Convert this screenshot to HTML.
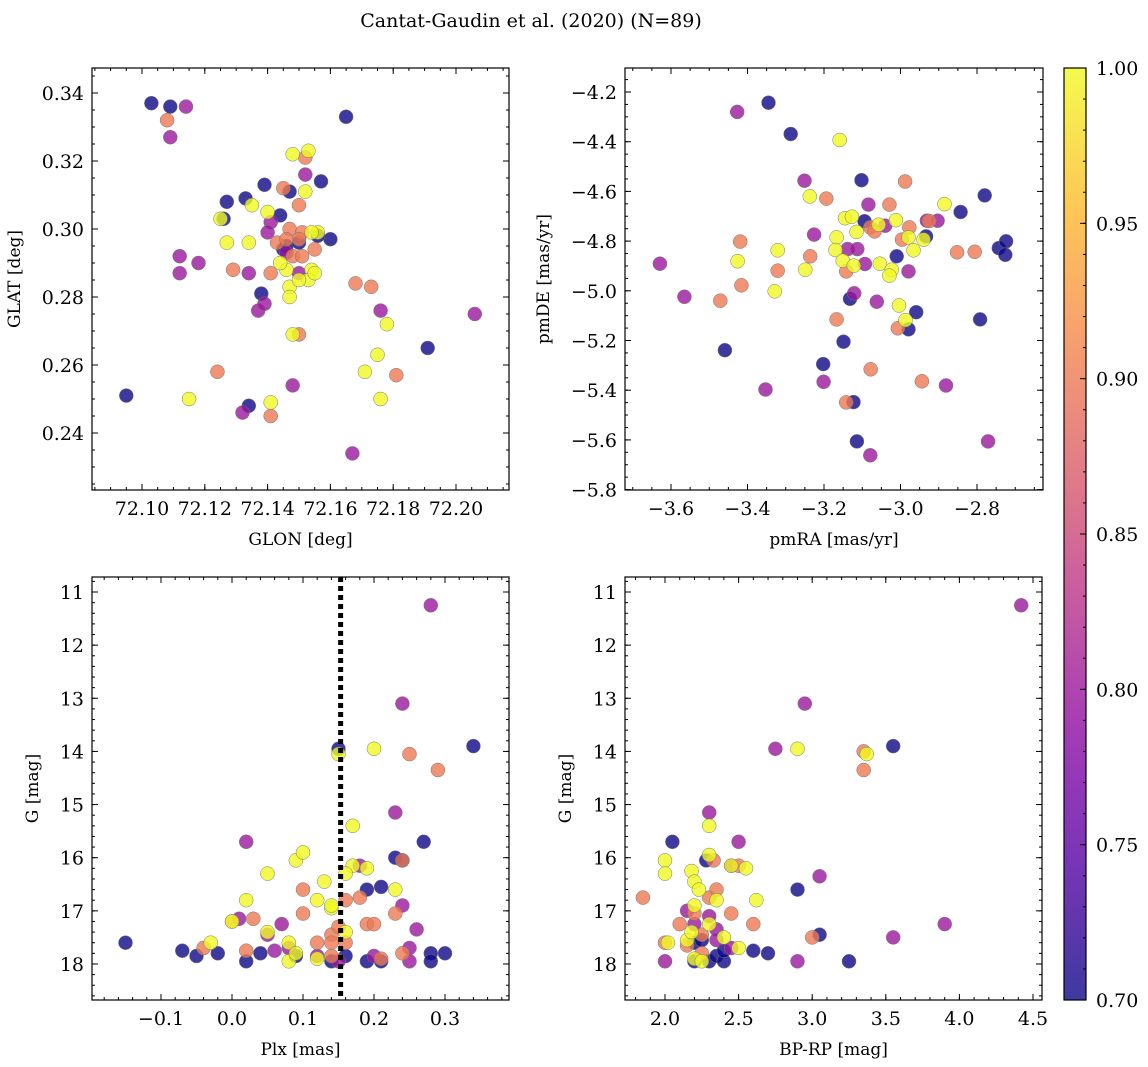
<!DOCTYPE html>
<html><head><meta charset="utf-8"><style>
html,body{margin:0;padding:0;background:#fff}
svg{display:block;font-family:"DejaVu Serif","Liberation Serif",serif}
</style></head><body>
<svg id="fig" width="1148" height="1067" viewBox="0 0 1148 1067" xmlns="http://www.w3.org/2000/svg">
<text x="531" y="27" text-anchor="middle" font-size="19">Cantat-Gaudin et al. (2020) (N=89)</text>
</svg>
<script>
// ---- data (per panel; probability classes) ----
const p1_glon = [72.103,72.109,72.165,72.127,72.133,72.139,72.144,72.147,72.126,72.146,72.150,72.157,72.160,72.156,72.138,72.191,72.095,72.134,72.145,
 72.114,72.109,72.112,72.112,72.118,72.141,72.146,72.152,72.134,72.137,72.139,72.150,72.148,72.167,72.176,72.206,72.132,72.140,
 72.108,72.145,72.152,72.150,72.147,72.151,72.143,72.155,72.141,72.129,72.150,72.146,72.150,72.168,72.173,72.181,72.124,72.141,72.148,72.151,
 72.148,72.153,72.152,72.125,72.135,72.140,72.127,72.134,72.156,72.154,72.146,72.147,72.147,72.154,72.153,72.155,72.148,72.144,72.150,72.175,72.171,72.178,72.176,72.115,72.141];
const p1_glat = [0.337,0.336,0.333,0.308,0.309,0.313,0.304,0.311,0.303,0.295,0.296,0.314,0.297,0.298,0.281,0.265,0.251,0.248,0.294,
 0.336,0.327,0.292,0.287,0.290,0.302,0.293,0.316,0.287,0.276,0.278,0.287,0.254,0.234,0.276,0.275,0.246,0.299,
 0.332,0.312,0.321,0.307,0.300,0.299,0.296,0.294,0.287,0.288,0.297,0.297,0.269,0.284,0.283,0.257,0.258,0.245,0.292,0.292,
 0.322,0.323,0.311,0.303,0.307,0.305,0.296,0.296,0.299,0.299,0.288,0.283,0.280,0.288,0.285,0.287,0.269,0.290,0.285,0.263,0.258,0.272,0.250,0.250,0.249];
const p1_prob = [0.7,0.7,0.7,0.7,0.7,0.7,0.7,0.7,0.7,0.7,0.7,0.7,0.7,0.7,0.7,0.7,0.7,0.7,0.7,
 0.8,0.8,0.8,0.8,0.8,0.8,0.8,0.8,0.8,0.8,0.8,0.8,0.8,0.8,0.8,0.8,0.8,0.8,
 0.9,0.9,0.9,0.9,0.9,0.9,0.9,0.9,0.9,0.9,0.9,0.9,0.9,0.9,0.9,0.9,0.9,0.9,0.9,0.9,
 1,1,1,1,1,1,1,1,1,1,1,1,1,1,1,1,1,1,1,1,1,1,1,1,1];

const p2_pmra = [-3.345,-3.287,-3.102,-2.780,-2.843,-3.094,-2.933,-2.743,-2.724,-2.726,-3.010,-3.132,-2.959,-2.979,-2.792,-3.459,-3.149,-3.202,-3.123,-3.114,
 -3.629,-3.427,-3.251,-3.084,-3.040,-2.931,-2.903,-3.226,-3.138,-3.113,-3.093,-2.979,-3.565,-3.121,-3.062,-3.201,-2.881,-3.353,-3.079,-2.771,
 -2.988,-3.194,-3.029,-3.079,-3.068,-2.977,-2.925,-2.996,-3.419,-2.852,-2.806,-3.236,-3.321,-3.142,-3.471,-3.416,-3.007,-3.167,-3.078,-2.944,-3.142,
 -3.159,-3.237,-2.885,-3.145,-3.127,-3.057,-3.012,-2.979,-2.940,-3.115,-3.167,-3.321,-3.170,-2.966,-3.426,-3.151,-3.122,-3.054,-3.023,-3.029,-3.249,-3.329,-3.004,-2.987];
const p2_pmde = [-4.243,-4.369,-4.555,-4.616,-4.683,-4.720,-4.781,-4.828,-4.801,-4.855,-4.861,-5.032,-5.086,-5.155,-5.115,-5.239,-5.205,-5.295,-5.448,-5.606,
 -4.891,-4.280,-4.557,-4.653,-4.738,-4.718,-4.718,-4.774,-4.832,-4.832,-4.892,-4.922,-5.024,-5.010,-5.044,-5.366,-5.381,-5.397,-5.662,-5.606,
 -4.560,-4.629,-4.653,-4.745,-4.761,-4.745,-4.719,-4.794,-4.802,-4.845,-4.843,-4.861,-4.919,-4.922,-5.040,-4.978,-5.151,-5.115,-5.316,-5.364,-5.449,
 -4.393,-4.620,-4.651,-4.708,-4.702,-4.734,-4.716,-4.785,-4.794,-4.763,-4.785,-4.837,-4.836,-4.837,-4.881,-4.879,-4.899,-4.891,-4.915,-4.939,-4.915,-5.002,-5.059,-5.118];
const p2_prob = [0.7,0.7,0.7,0.7,0.7,0.7,0.7,0.7,0.7,0.7,0.7,0.7,0.7,0.7,0.7,0.7,0.7,0.7,0.7,0.7,
 0.8,0.8,0.8,0.8,0.8,0.8,0.8,0.8,0.8,0.8,0.8,0.8,0.8,0.8,0.8,0.8,0.8,0.8,0.8,0.8,
 0.9,0.9,0.9,0.9,0.9,0.9,0.9,0.9,0.9,0.9,0.9,0.9,0.9,0.9,0.9,0.9,0.9,0.9,0.9,0.9,0.9,
 1,1,1,1,1,1,1,1,1,1,1,1,1,1,1,1,1,1,1,1,1,1,1,1];

const p3_plx = [-0.15,-0.07,-0.05,-0.02,0.02,0.04,0.09,0.14,0.19,0.21,0.19,0.21,0.23,0.24,0.27,0.34,0.28,0.30,0.28,0.15,0.16,
 0.02,0.01,0.07,0.08,0.12,0.15,0.18,0.20,0.23,0.24,0.28,0.25,0.25,0.26,0.24,0.06,0.05,
 0.00,-0.04,0.02,0.03,0.10,0.10,0.14,0.14,0.16,0.18,0.19,0.20,0.15,0.14,0.16,0.23,0.24,0.25,0.29,0.24,0.21,0.12,
 0.00,-0.03,0.02,0.05,0.05,0.08,0.08,0.09,0.10,0.09,0.13,0.12,0.14,0.15,0.17,0.17,0.16,0.19,0.20,0.23,0.16,0.14,0.12];
const p3_g = [17.6,17.75,17.85,17.8,17.95,17.8,17.85,17.95,17.95,17.95,16.6,16.55,16.0,16.05,15.7,13.9,17.8,17.8,17.95,13.95,17.85,
 15.7,17.15,17.25,17.7,17.85,17.95,16.15,17.85,15.15,13.1,11.25,17.7,17.95,17.35,16.9,17.75,17.45,
 17.2,17.7,17.75,17.15,16.6,17.05,17.45,17.6,16.8,16.75,17.25,17.25,17.3,17.85,17.6,17.05,17.8,14.05,14.35,16.05,17.9,17.6,
 17.2,17.6,16.8,16.3,17.4,17.6,17.95,16.05,15.9,17.8,16.45,16.8,16.95,14.05,15.4,16.15,16.3,16.2,13.95,16.6,17.4,16.9,17.9];
const p3_prob = [0.7,0.7,0.7,0.7,0.7,0.7,0.7,0.7,0.7,0.7,0.7,0.7,0.7,0.7,0.7,0.7,0.7,0.7,0.7,0.7,0.7,
 0.8,0.8,0.8,0.8,0.8,0.8,0.8,0.8,0.8,0.8,0.8,0.8,0.8,0.8,0.8,0.8,0.8,
 0.9,0.9,0.9,0.9,0.9,0.9,0.9,0.9,0.9,0.9,0.9,0.9,0.9,0.9,0.9,0.9,0.9,0.9,0.9,0.9,0.9,0.9,
 1,1,1,1,1,1,1,1,1,1,1,1,1,1,1,1,1,1,1,1,1,1,1];
const p3_plxMean = [0.153];

const p4_bprp = [2.05,2.28,2.2,2.2,2.3,2.35,2.4,2.6,2.7,2.9,3.05,3.25,3.55,2.4,2.25,
 2.0,2.15,2.3,2.35,2.45,2.5,2.3,2.75,2.95,3.05,3.55,3.9,4.42,2.9,2.2,2.35,2.45,
 1.85,2.0,2.1,2.2,2.25,2.3,2.35,2.33,2.45,2.5,2.6,3.0,3.35,3.35,2.25,2.15,
 2.0,2.0,2.02,2.15,2.18,2.2,2.23,2.18,2.2,2.25,2.3,2.3,2.35,2.45,2.55,2.5,2.62,2.3,2.9,3.37,2.2,2.4];
const p4_g = [15.7,16.05,17.6,17.95,17.95,17.85,17.95,17.75,17.8,16.6,17.45,17.95,13.9,17.75,17.55,
 17.95,17.0,17.1,17.35,16.15,15.7,15.15,13.95,13.1,16.35,17.5,17.25,11.25,17.95,17.25,17.55,17.7,
 16.75,17.6,17.25,17.05,17.45,16.75,16.6,16.05,17.05,16.15,17.25,17.5,14.0,14.35,17.8,17.65,
 16.05,16.3,17.6,17.55,16.25,16.45,16.6,17.4,17.9,17.95,15.4,15.95,16.8,16.15,16.2,17.7,16.8,17.25,13.95,14.05,16.9,17.5];
const p4_prob = [0.7,0.7,0.7,0.7,0.7,0.7,0.7,0.7,0.7,0.7,0.7,0.7,0.7,0.7,0.7,
 0.8,0.8,0.8,0.8,0.8,0.8,0.8,0.8,0.8,0.8,0.8,0.8,0.8,0.8,0.8,0.8,0.8,
 0.9,0.9,0.9,0.9,0.9,0.9,0.9,0.9,0.9,0.9,0.9,0.9,0.9,0.9,0.9,0.9,
 1,1,1,1,1,1,1,1,1,1,1,1,1,1,1,1,1,1,1,1,1,1];

const cbarTicks = [0.70,0.75,0.80,0.85,0.90,0.95,1.00];

// ---- helpers ----
const NS="http://www.w3.org/2000/svg";
const svg=document.getElementById('fig');
function mk(tag,attrs,parent){const e=document.createElementNS(NS,tag);for(const k in attrs)e.setAttribute(k,attrs[k]);(parent||svg).appendChild(e);return e;}
const stops=[[13,8,135],[84,2,163],[139,10,165],[185,50,137],[219,92,104],[244,136,73],[254,188,43],[240,249,33]];
function plasma(t){t=Math.max(0,Math.min(1,t));const s=t*(stops.length-1);const i=Math.min(stops.length-2,Math.floor(s));const f=s-i;const a=stops[i],b=stops[i+1];return 'rgb('+a.map((v,k)=>Math.round(v+(b[k]-v)*f)).join(',')+')';}
const VMIN=0.7,VMAX=1.0;
function fmt(v,d){let s=v.toFixed(d);if(s.startsWith('-'))s='\u2212'+s.slice(1);return s;}
const TICKFS=19, LABELFS=17;

function panel(o){
  const g=mk('g',{});
  
  
  const {x0,x1,y0,y1}=o;
  const sx=v=>x0+(v-o.xmin)/(o.xmax-o.xmin)*(x1-x0);
  const sy=v=>o.yinv? y0+(v-o.ymin)/(o.ymax-o.ymin)*(y1-y0) : y1-(v-o.ymin)/(o.ymax-o.ymin)*(y1-y0);
  const pg=mk('g',{},g);
  for(let i=0;i<o.xs.length;i++){
    const c=mk('circle',{cx:sx(o.xs[i]).toFixed(1),cy:sy(o.ys[i]).toFixed(1),r:7,fill:plasma((o.ps[i]-VMIN)/(VMAX-VMIN)),'fill-opacity':0.8,stroke:'#777','stroke-width':0.5},pg);
    
    
  }
  if(o.vline){const l=mk('line',{x1:sx(o.vline),x2:sx(o.vline),y1:y0,y2:y1,stroke:'#000','stroke-width':5,'stroke-dasharray':'5,4'},g);
    
    }
  mk('rect',{x:x0,y:y0,width:x1-x0,height:y1-y0,fill:'none',stroke:'#000','stroke-width':1.2},g);
  const eps=1e-9;
  for(let v=Math.ceil(o.xmin/o.xminor-eps)*o.xminor;v<=o.xmax+eps;v+=o.xminor){const X=sx(v);
    mk('line',{x1:X,x2:X,y1:y1,y2:y1-3,stroke:'#000'},g);mk('line',{x1:X,x2:X,y1:y0,y2:y0+3,stroke:'#000'},g);}
  for(let v=Math.ceil(o.ymin/o.yminor-eps)*o.yminor;v<=o.ymax+eps;v+=o.yminor){const Y=sy(v);
    mk('line',{x1:x0,x2:x0+3,y1:Y,y2:Y,stroke:'#000'},g);mk('line',{x1:x1,x2:x1-3,y1:Y,y2:Y,stroke:'#000'},g);}
  o.xticks.forEach(v=>{const X=sx(v);mk('line',{x1:X,x2:X,y1:y1,y2:y1-6,stroke:'#000'},g);mk('line',{x1:X,x2:X,y1:y0,y2:y0+6,stroke:'#000'},g);
    const t=mk('text',{x:X,y:y1+25,'text-anchor':'middle','font-size':TICKFS},g);t.textContent=fmt(v,o.xd);
    });
  o.yticks.forEach(v=>{const Y=sy(v);mk('line',{x1:x0,x2:x0+6,y1:Y,y2:Y,stroke:'#000'},g);mk('line',{x1:x1,x2:x1-6,y1:Y,y2:Y,stroke:'#000'},g);
    const t=mk('text',{x:x0-8,y:Y+7,'text-anchor':'end','font-size':TICKFS},g);t.textContent=fmt(v,o.yd);
    });
  const xl=mk('text',{x:(x0+x1)/2,y:y1+55,'text-anchor':'middle','font-size':LABELFS},g);xl.textContent=o.xlabel;
  
  const yl=mk('text',{x:0,y:0,'text-anchor':'middle','font-size':LABELFS,transform:`translate(${o.ylx},${(y0+y1)/2}) rotate(-90)`},g);yl.textContent=o.ylabel;
  
}
function range(a,b,s){const r=[];for(let v=a;v<=b+1e-9;v+=s)r.push(Math.round(v*1e6)/1e6);return r;}

panel({name:'glon-glat-panel',x0:92,x1:509,y0:68,y1:490,xmin:72.1-50/3140,xmax:72.2+53/3140,ymin:0.34-397*0.02/68,ymax:0.34+25*0.02/68,
  xs:p1_glon,ys:p1_glat,ps:p1_prob,xticks:range(72.10,72.20,0.02),yticks:range(0.24,0.34,0.02),xminor:0.005,yminor:0.005,xd:2,yd:2,xlabel:'GLON [deg]',ylabel:'GLAT [deg]',ylx:20});
panel({name:'proper-motion-panel',x0:625,x1:1043,y0:68,y1:490,xmin:-3.6-46/382.5,xmax:-3.6+372/382.5,ymin:-5.8-0.4/248.5,ymax:-4.2+24/248.5,
  xs:p2_pmra,ys:p2_pmde,ps:p2_prob,xticks:range(-3.6,-2.8,0.2),yticks:range(-5.8,-4.2,0.2),xminor:0.05,yminor:0.05,xd:1,yd:1,xlabel:'pmRA [mas/yr]',ylabel:'pmDE [mas/yr]',ylx:549});
panel({name:'parallax-g-panel',x0:92,x1:509,y0:577,y1:1000,xmin:-0.1-69/710,xmax:0.3+64/710,ymin:11-15/53.1,ymax:18+36/53.1,yinv:true,
  xs:p3_plx,ys:p3_g,ps:p3_prob,vline:p3_plxMean[0],xticks:range(-0.1,0.3,0.1),yticks:range(11,18,1),xminor:0.02,yminor:0.2,xd:1,yd:0,xlabel:'Plx [mas]',ylabel:'G [mag]',ylx:38});
panel({name:'color-magnitude-panel',x0:625,x1:1042,y0:577,y1:1000,xmin:2.0-40/147.2,xmax:4.5+9/147.2,ymin:11-15/53.1,ymax:18+36/53.1,yinv:true,
  xs:p4_bprp,ys:p4_g,ps:p4_prob,xticks:range(2.0,4.5,0.5),yticks:range(11,18,1),xminor:0.1,yminor:0.2,xd:1,yd:0,xlabel:'BP-RP [mag]',ylabel:'G [mag]',ylx:571});

(function(){
  const cx0=1064,cx1=1086,cy0=68,cy1=1000;
  const g=mk('g',{});
  
  
  const defs=mk('defs',{},g);
  const lg=mk('linearGradient',{id:'pl',x1:0,y1:1,x2:0,y2:0},defs);
  for(let i=0;i<=20;i++){mk('stop',{offset:(i/20),'stop-color':plasma(i/20),'stop-opacity':0.8},lg);}
  mk('rect',{x:cx0,y:cy0,width:cx1-cx0,height:cy1-cy0,fill:'url(#pl)',stroke:'#000','stroke-width':1.2},g);
  const sy=v=>cy1-(v-VMIN)/(VMAX-VMIN)*(cy1-cy0);
  for(let k=0;k<=30;k++){const Y=sy(0.7+k*0.01);mk('line',{x1:cx1,x2:cx1-3,y1:Y,y2:Y,stroke:'#000'},g);}
  cbarTicks.forEach(v=>{const Y=sy(v);mk('line',{x1:cx1,x2:cx1-6,y1:Y,y2:Y,stroke:'#000'},g);
    const t=mk('text',{x:cx1+10,y:Y+7,'font-size':TICKFS},g);t.textContent=v.toFixed(2);
    });
})();
</script>
</body></html>
